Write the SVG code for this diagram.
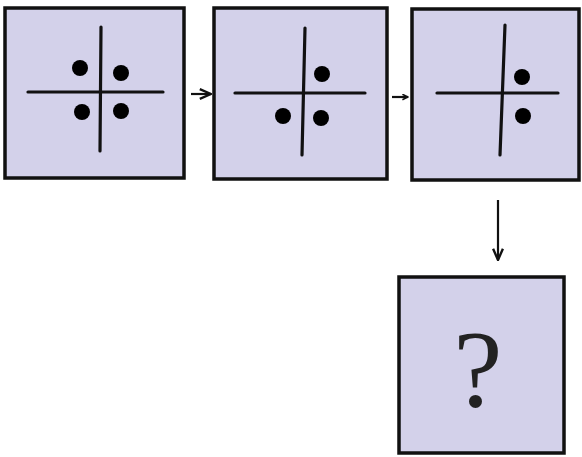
<svg xmlns="http://www.w3.org/2000/svg" width="582" height="457" viewBox="0 0 582 457">
<defs>
<marker id="ah" viewBox="0 0 10 10" refX="9" refY="5" markerWidth="7" markerHeight="7" orient="auto" markerUnits="userSpaceOnUse">
<path d="M1,1 L9,5 L1,9" fill="none" stroke="#111" stroke-width="2.2"/>
</marker>
<marker id="ah2" viewBox="0 0 10 10" refX="9" refY="5" markerWidth="14" markerHeight="14" orient="auto" markerUnits="userSpaceOnUse">
<path d="M1,1.5 L9,5 L1,8.5" fill="none" stroke="#111" stroke-width="1.7"/>
</marker>
</defs>
<style>
.box{fill:#d3d1ea;stroke:#111;stroke-width:3.5}
.ax{stroke:#111;stroke-width:3.2;stroke-linecap:round}
.dot{fill:#000}
.conn{stroke:#111;stroke-width:2.2;fill:none}
</style>
<rect width="582" height="457" fill="#fff"/>
<g id="node1">
<rect class="box" x="5" y="8" width="179" height="170"/>
<line class="ax" x1="28" y1="92" x2="163" y2="92"/>
<line class="ax" x1="101" y1="27" x2="100" y2="151"/>
<circle class="dot" cx="80" cy="68" r="8"/>
<circle class="dot" cx="121" cy="73" r="8"/>
<circle class="dot" cx="82" cy="112" r="8"/>
<circle class="dot" cx="121" cy="111" r="8"/>
</g>
<g id="node2">
<rect class="box" x="214" y="8" width="173" height="171"/>
<line class="ax" x1="235" y1="93" x2="365" y2="93"/>
<line class="ax" x1="305" y1="28" x2="302" y2="155"/>
<circle class="dot" cx="322" cy="74" r="8"/>
<circle class="dot" cx="283" cy="116" r="8"/>
<circle class="dot" cx="321" cy="118" r="8"/>
</g>
<g id="node3">
<rect class="box" x="412" y="9" width="167" height="171"/>
<line class="ax" x1="437" y1="93" x2="558" y2="93"/>
<line class="ax" x1="505" y1="25" x2="500" y2="155"/>
<circle class="dot" cx="522" cy="77" r="8"/>
<circle class="dot" cx="523" cy="116" r="8"/>
</g>
<g id="node4">
<rect class="box" x="399" y="277" width="165" height="176"/>
<text x="478" y="406" font-family="Liberation Serif, serif" font-size="110" text-anchor="middle" fill="#222">?</text>
</g>
<g id="connectors">
<line class="conn" x1="191" y1="94" x2="211" y2="94" marker-end="url(#ah2)"/>
<line class="conn" x1="392" y1="97" x2="408" y2="97" marker-end="url(#ah)"/>
<line class="conn" x1="498" y1="200" x2="498" y2="260" marker-end="url(#ah2)"/>
</g>
</svg>
